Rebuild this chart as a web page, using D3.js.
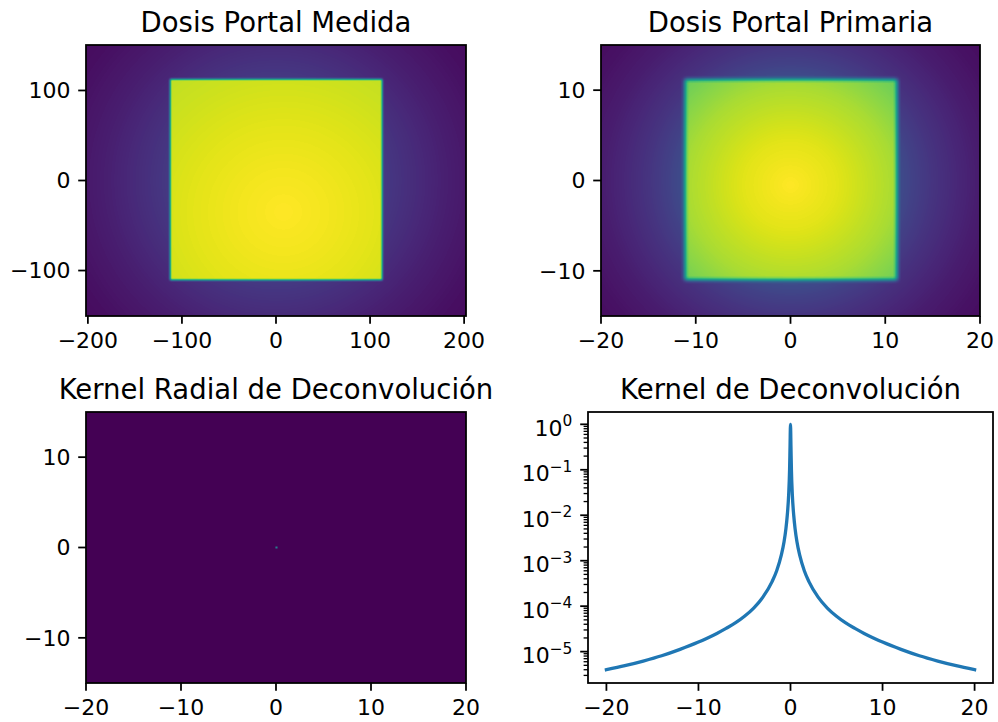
<!DOCTYPE html>
<html>
<head>
<meta charset="utf-8">
<script src="https://cdn.jsdelivr.net/npm/d3@7"></script>
<style>
  body { margin: 0; background: #fff; }
  svg { display: block; font-family: "DejaVu Sans", sans-serif; }
</style>
</head>
<body>
<svg id="fig" width="998" height="722"></svg>
<script>
var titles = ['Dosis Portal Medida', 'Dosis Portal Primaria', 'Kernel Radial de Deconvolución', 'Kernel de Deconvolución'];

// Dosis Portal Medida (detector pixels)
var medidaExtX = [-202, 202], medidaExtY = [-150.5, 150.5];
var medidaTicksX = [-200, -100, 0, 100, 200], medidaTicksY = [-100, 0, 100];
var medidaFieldX = [-112.5, 113], medidaFieldY = [-110.5, 112.5];
var medidaPenumbra = 2.5;
var medidaCenter = [8, -35];
var medidaInR = [0, 50, 100, 150, 200];
var medidaInV = [1.0, 0.98, 0.955, 0.925, 0.9];
var medidaOutR = [110, 130, 150, 175, 200, 230, 260];
var medidaOutV = [0.17, 0.145, 0.12, 0.09, 0.065, 0.04, 0.025];

// Dosis Portal Primaria (cm)
var primExtX = [-20, 20], primExtY = [-15, 15];
var primTicksX = [-20, -10, 0, 10, 20], primTicksY = [-10, 0, 10];
var primFieldX = [-11.15, 11.25], primFieldY = [-11.0, 11.2];
var primPenumbra = 0.45;
var primCenter = [0, -0.5];
var primInR = [0, 5, 11, 16, 20];
var primInV = [1.0, 0.955, 0.87, 0.77, 0.7];
var primOutR = [11, 13, 15, 17.5, 20, 23, 25.5];
var primOutV = [0.24, 0.19, 0.15, 0.11, 0.075, 0.045, 0.03];

// penumbra profile (distance into field / penumbra width -> fraction)
var penD = [-1, -0.5, 0, 0.5, 1];
var penV = [0, 0.12, 0.5, 0.88, 1];

// Kernel Radial de Deconvolucion (cm)
var radialExtX = [-20, 20], radialExtY = [-15, 15];
var radialX = [0.05], radialY = [0];
var radialV = [0.42];
var radialCell = 0.22;

// Kernel de Deconvolucion profile
var kernelX = [-20, -18, -16, -14, -12, -10, -9, -8, -7, -6, -5, -4, -3, -2, -1.5, -1, -0.7, -0.5, -0.35, -0.2, -0.1, -0.05,
  0, 0.05, 0.1, 0.2, 0.35, 0.5, 0.7, 1, 1.5, 2, 3, 4, 5, 6, 7, 8, 9, 10, 12, 14, 16, 18, 20];
var kernelY = [4.0e-6, 4.9e-6, 6.2e-6, 8.1e-6, 1.12e-5, 1.62e-5, 2.0e-5, 2.51e-5, 3.24e-5, 4.27e-5, 6.0e-5, 9.1e-5, 1.58e-4, 3.47e-4, 6.0e-4, 1.32e-3, 2.6e-3, 5.0e-3, 1.0e-2, 2.8e-2, 0.1, 0.32,
  1, 0.32, 0.1, 2.8e-2, 1.0e-2, 5.0e-3, 2.6e-3, 1.32e-3, 6.0e-4, 3.47e-4, 1.58e-4, 9.1e-5, 6.0e-5, 4.27e-5, 3.24e-5, 2.51e-5, 2.0e-5, 1.62e-5, 1.12e-5, 8.1e-6, 6.2e-6, 4.9e-6, 4.0e-6];
var kernelTicksX = [-20, -10, 0, 10, 20];
var kernelTicksY = [0, -1, -2, -3, -4, -5];

var svg = d3.select('#fig');
var color = d3.scaleSequential(d3.interpolateViridis).domain([0, 1]);

var FS = 22, TFS = 27.5, SPINE = 1.78, TICK = 7.8, PAD = 7.8;

var boxes = [
  {x0: 86, x1: 466, y0: 45, y1: 316},
  {x0: 601, x1: 980, y0: 45, y1: 316},
  {x0: 86, x1: 466, y0: 412, y1: 683},
  {x0: 588, x1: 993, y0: 412, y1: 683}
];

function fmt(v) { return v < 0 ? '\u2212' + Math.abs(v) : String(v); }

function fieldFn(fx, fy, pen, center, inR, inV, outR, outV) {
  var edge = d3.scaleLinear().domain(penD).range(penV).clamp(true);
  var inner = d3.scaleLinear().domain(inR).range(inV).clamp(true);
  var outer = d3.scaleLinear().domain(outR).range(outV).clamp(true);
  return function(x, y) {
    var ex = edge(Math.min(x - fx[0], fx[1] - x) / pen);
    var ey = edge(Math.min(y - fy[0], fy[1] - y) / pen);
    var e = ex * ey;
    var rin = Math.hypot(x - center[0], y - center[1]);
    var rout = Math.hypot(x, y);
    return e * inner(rin) + (1 - e) * outer(rout);
  };
}

function frame(i) {
  var b = boxes[i];
  var g = svg.append('g');
  g.append('text')
    .attr('x', (b.x0 + b.x1) / 2).attr('y', b.y0 - 13.5)
    .attr('text-anchor', 'middle').attr('font-size', TFS).attr('fill', '#000')
    .text(titles[i]);
  return g;
}

function axesDecor(g, i, xs, ys, ticksX, ticksY) {
  var b = boxes[i];
  g.append('rect')
    .attr('x', b.x0).attr('y', b.y0).attr('width', b.x1 - b.x0).attr('height', b.y1 - b.y0)
    .attr('fill', 'none').attr('stroke', '#000').attr('stroke-width', SPINE);
  ticksX.forEach(function(t) {
    var x = xs(t);
    g.append('line').attr('x1', x).attr('x2', x).attr('y1', b.y1).attr('y2', b.y1 + TICK)
      .attr('stroke', '#000').attr('stroke-width', SPINE);
    g.append('text').attr('x', x).attr('y', b.y1 + TICK + PAD + 0.76 * FS)
      .attr('text-anchor', 'middle').attr('font-size', FS).text(fmt(t));
  });
  if (ticksY) ticksY.forEach(function(t) {
    var y = ys(t);
    g.append('line').attr('x1', b.x0 - TICK).attr('x2', b.x0).attr('y1', y).attr('y2', y)
      .attr('stroke', '#000').attr('stroke-width', SPINE);
    g.append('text').attr('x', b.x0 - TICK - PAD).attr('y', y).attr('dy', '0.36em')
      .attr('text-anchor', 'end').attr('font-size', FS).text(fmt(t));
  });
}

function heatPanel(i, extX, extY, ticksX, ticksY, fn) {
  var b = boxes[i];
  var xs = d3.scaleLinear().domain(extX).range([b.x0, b.x1]);
  var ys = d3.scaleLinear().domain(extY).range([b.y1, b.y0]);
  var g = frame(i);
  var w = b.x1 - b.x0, h = b.y1 - b.y0;
  var canvas = document.createElement('canvas');
  canvas.width = w; canvas.height = h;
  var ctx = canvas.getContext('2d');
  var img = ctx.createImageData(w, h);
  for (var j = 0; j < h; j++) {
    for (var k = 0; k < w; k++) {
      var c = d3.rgb(color(fn(xs.invert(b.x0 + k + 0.5), ys.invert(b.y0 + j + 0.5))));
      var p = (j * w + k) * 4;
      img.data[p] = c.r; img.data[p + 1] = c.g; img.data[p + 2] = c.b; img.data[p + 3] = 255;
    }
  }
  ctx.putImageData(img, 0, 0);
  g.append('image')
    .attr('x', xs(extX[0])).attr('y', ys(extY[1])).attr('width', w).attr('height', h)
    .attr('preserveAspectRatio', 'none')
    .attr('href', canvas.toDataURL());
  axesDecor(g, i, xs, ys, ticksX, ticksY);
}

heatPanel(0, medidaExtX, medidaExtY, medidaTicksX, medidaTicksY,
  fieldFn(medidaFieldX, medidaFieldY, medidaPenumbra, medidaCenter, medidaInR, medidaInV, medidaOutR, medidaOutV));
heatPanel(1, primExtX, primExtY, primTicksX, primTicksY,
  fieldFn(primFieldX, primFieldY, primPenumbra, primCenter, primInR, primInV, primOutR, primOutV));

// radial kernel map
(function() {
  var b = boxes[2];
  var xs = d3.scaleLinear().domain(radialExtX).range([b.x0, b.x1]);
  var ys = d3.scaleLinear().domain(radialExtY).range([b.y1, b.y0]);
  var g = frame(2);
  g.append('rect').attr('x', b.x0).attr('y', b.y0).attr('width', b.x1 - b.x0).attr('height', b.y1 - b.y0)
    .attr('fill', color(0));
  g.selectAll('rect.cell').data(radialV).enter().append('rect').attr('class', 'cell')
    .attr('x', function(d, k) { return xs(radialX[k] - radialCell / 2); })
    .attr('y', function(d, k) { return ys(radialY[k] + radialCell / 2); })
    .attr('width', xs(radialCell) - xs(0))
    .attr('height', ys(0) - ys(radialCell))
    .attr('fill', function(d) { return color(d); });
  axesDecor(g, 2, xs, ys, primTicksX, primTicksY);
})();

// kernel profile, log y
(function() {
  var b = boxes[3];
  var xs = d3.scaleLinear().domain([-22, 22]).range([b.x0, b.x1]);
  var ys = d3.scaleLog().domain([Math.pow(10, -5.69), Math.pow(10, 0.271)]).range([b.y1, b.y0]);
  var g = frame(3);
  var line = d3.line()
    .x(function(d, k) { return xs(kernelX[k]); })
    .y(function(d) { return ys(d); })
    .curve(d3.curveMonotoneX);
  g.append('path').datum(kernelY)
    .attr('d', line).attr('fill', 'none').attr('stroke', '#1f77b4')
    .attr('stroke-width', 3.3).attr('stroke-linejoin', 'round').attr('stroke-linecap', 'square');
  axesDecor(g, 3, xs, ys, kernelTicksX, null);
  // minor ticks
  var dom = ys.domain();
  for (var e = -6; e <= 0; e++) {
    for (var m = 2; m <= 9; m++) {
      var v = m * Math.pow(10, e);
      if (v < dom[0] || v > dom[1]) continue;
      g.append('line').attr('x1', b.x0 - 4.4).attr('x2', b.x0).attr('y1', ys(v)).attr('y2', ys(v))
        .attr('stroke', '#000').attr('stroke-width', 1.33);
    }
  }
  kernelTicksY.forEach(function(e) {
    var y = ys(Math.pow(10, e));
    g.append('line').attr('x1', b.x0 - TICK).attr('x2', b.x0).attr('y1', y).attr('y2', y)
      .attr('stroke', '#000').attr('stroke-width', SPINE);
    var t = g.append('text').attr('x', b.x0 - TICK - PAD).attr('y', y + 11.5)
      .attr('text-anchor', 'end').attr('font-size', FS);
    t.append('tspan').text('10');
    t.append('tspan').attr('dy', -9.5).attr('font-size', 15.4).text(fmt(e));
  });
})();
</script>
</body>
</html>
